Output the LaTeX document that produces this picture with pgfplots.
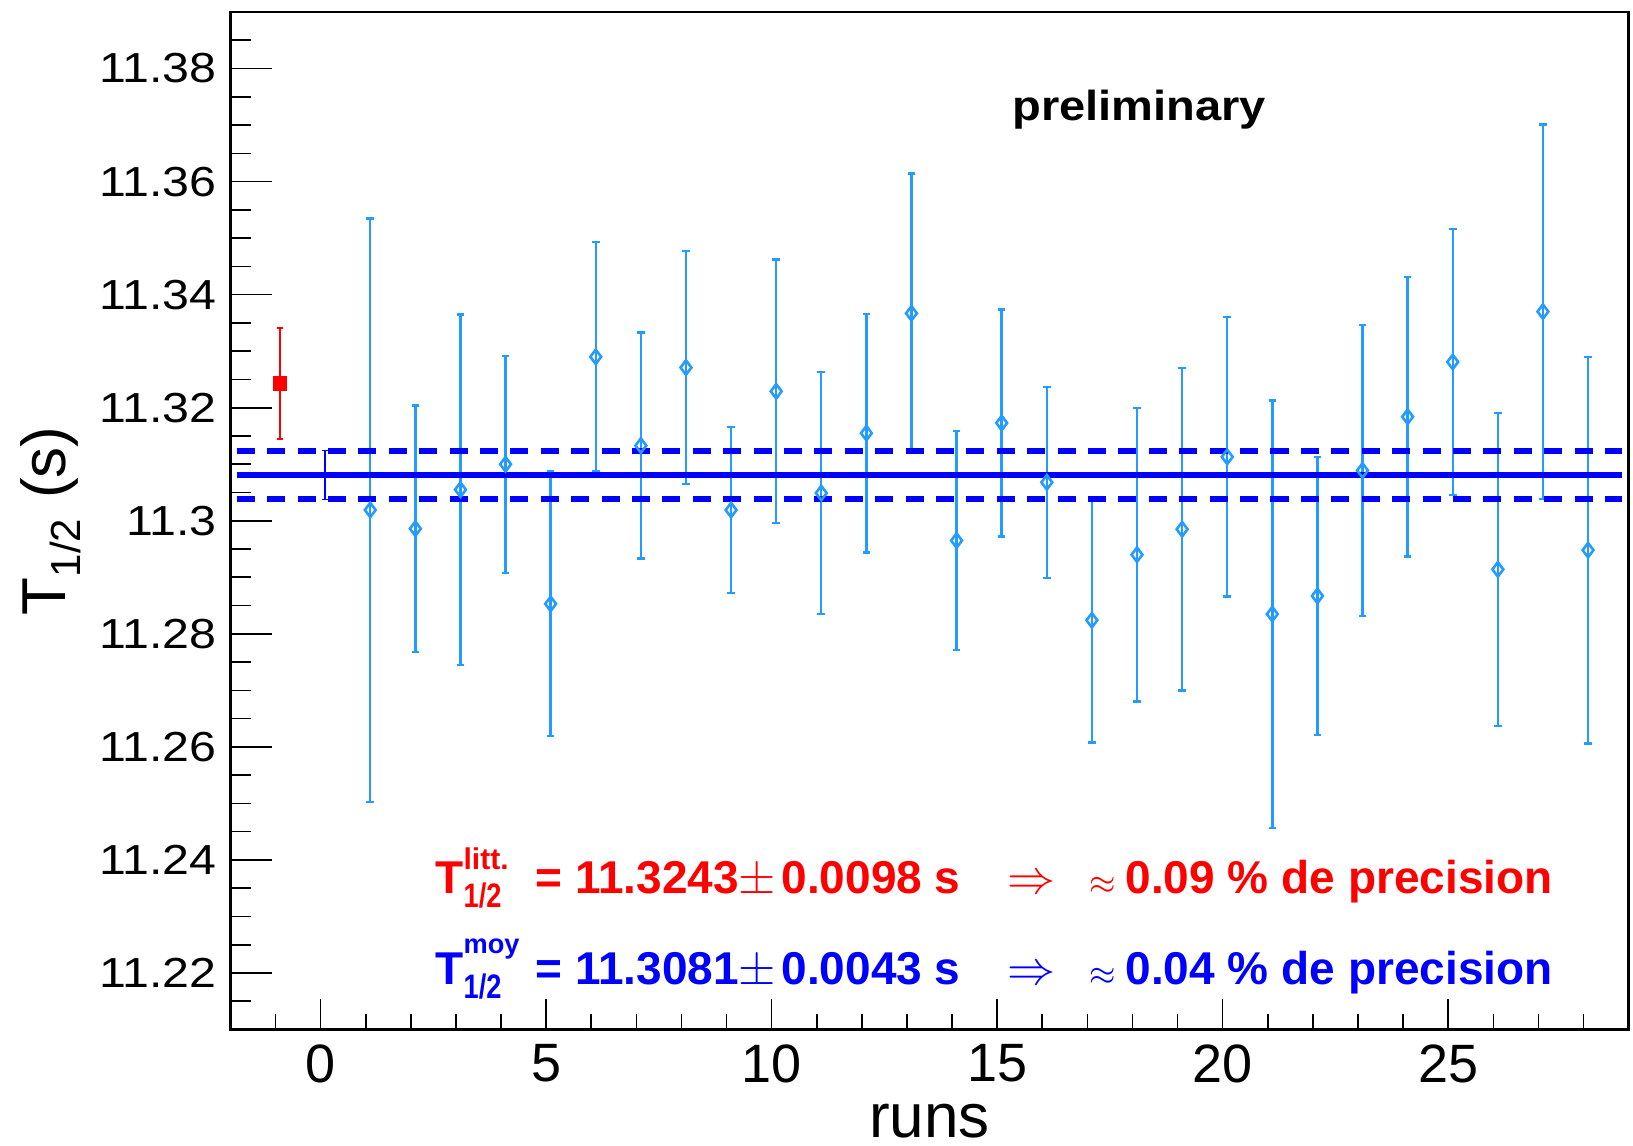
\documentclass[border=0pt]{standalone}
\usepackage{pgfplots}
\pgfplotsset{compat=1.18}
\usepackage{pgfplotstable}
\usepackage{graphicx}
\usepackage{fontspec}
\setmainfont{Liberation Sans}

\definecolor{runblue}{RGB}{35,155,255}
\definecolor{meanblue}{RGB}{0,0,255}
\definecolor{littred}{RGB}{255,0,0}

% half-life per run: x = run (+0.1 offset), value, uncertainty
\pgfplotstableread{
x     y        err
1.1   11.3019  0.0516
2.1   11.2986  0.0218
3.1   11.3055  0.0310
4.1   11.3100  0.0192
5.1   11.2853  0.0234
6.1   11.3290  0.0203
7.1   11.3133  0.0200
8.1   11.3271  0.0206
9.1   11.3019  0.0147
10.1  11.3229  0.0233
11.1  11.3049  0.0214
12.1  11.3155  0.0211
13.1  11.3367  0.0247
14.1  11.2965  0.0194
15.1  11.3173  0.0201
16.1  11.3068  0.0169
17.1  11.2824  0.0216
18.1  11.2940  0.0260
19.1  11.2985  0.0285
20.1  11.3113  0.0247
21.1  11.2835  0.0378
22.1  11.2867  0.0246
23.1  11.3089  0.0257
24.1  11.3184  0.0247
25.1  11.3281  0.0235
26.1  11.2914  0.0277
27.1  11.3370  0.0331
28.1  11.2948  0.0342
}\runtable

\newcommand{\yl}[1]{\scalebox{1.15}[1]{#1}}
\newcommand{\half}{\raisebox{-3.5pt}{\scalebox{0.8}[1]{\fontsize{8.5}{9}\selectfont 1/2}}}

\tikzset{leg/.style={anchor=base west, inner sep=0pt, font=\fontsize{11.5}{13}\selectfont\bfseries}}

\begin{document}
\begin{tikzpicture}
\pgfplotsset{
  rootframe/.style={
    scale only axis, width=349.5pt, height=254.35pt,
    xmin=-2, xmax=29, ymin=11.21, ymax=11.39,
    axis line style={line width=0.6pt, black},
    tick style={line width=0.4pt, black},
    tick align=inside,
  }
}
% main axis: data, y ticks
\begin{axis}[rootframe, name=main,
  xtick=\empty,
  ytick={11.22,11.24,11.26,11.28,11.30,11.32,11.34,11.36,11.38},
  yticklabels={\yl{11.22},\yl{11.24},\yl{11.26},\yl{11.28},\yl{11.3},\yl{11.32},\yl{11.34},\yl{11.36},\yl{11.38}},
  minor ytick={11.215,11.225,11.23,11.235,11.245,11.25,11.255,11.265,11.27,11.275,11.285,11.29,11.295,11.305,11.31,11.315,11.325,11.33,11.335,11.345,11.35,11.355,11.365,11.37,11.375,11.385},
  major tick length=10.5pt, minor tick length=5.25pt,
  ytick pos=left,
  yticklabel style={font=\fontsize{10.5}{12}\selectfont, anchor=east, inner sep=0pt, xshift=-3.25pt},
  every axis y label/.style={at={(axis description cs:-0.118,0.5)}, rotate=90, anchor=base, inner sep=0pt},
  ylabel={\fontsize{15.5}{18}\selectfont T\raisebox{-3.75pt}{\fontsize{10.5}{12}\selectfont 1/2}\hspace{5pt}(s)},
]
% literature value
\addplot[only marks, mark=square*, mark size=1.6pt, littred,
  error bars/.cd, y dir=both, y explicit,
  error bar style={line width=0.45pt, littred},
  error mark options={rotate=90, mark size=0.85pt, line width=0.45pt, littred}]
  coordinates {(-0.9,11.3243) +- (0,0.0098)};
% weighted mean
\addplot[only marks, mark=*, mark size=0.5pt, meanblue,
  error bars/.cd, y dir=both, y explicit,
  error bar style={line width=0.35pt, meanblue},
  error mark options={rotate=90, mark size=0.85pt, line width=0.35pt, meanblue}]
  coordinates {(0.1,11.3081) +- (0,0.0043)};
% individual runs
\addplot[only marks, mark=diamond, mark size=1.8pt, runblue,
  mark options={fill=white, line width=0.65pt},
  error bars/.cd, y dir=both, y explicit,
  error bar style={line width=0.6pt, runblue},
  error mark options={rotate=90, mark size=0.95pt, line width=0.6pt, runblue}]
  table[x=x, y=y, y error=err] {\runtable};
% mean and its band
\addplot[meanblue, line width=1.45pt, mark=none] coordinates {(-1.86,11.3081) (28.86,11.3081)};
\addplot[meanblue, line width=1.55pt, mark=none, dash pattern=on 4.5pt off 3.1pt] coordinates {(-1.86,11.3124) (28.86,11.3124)};
\addplot[meanblue, line width=1.55pt, mark=none, dash pattern=on 4.5pt off 3.1pt] coordinates {(-1.86,11.3038) (28.86,11.3038)};

\node[anchor=base west, inner sep=0pt, font=\fontsize{10.5}{12}\selectfont\bfseries] at (axis cs:15.32,11.3708) {\scalebox{1.12}[1]{preliminary}};

% literature line
\node[leg, littred] at (axis cs:2.53,11.2341) {T\rlap{\raisebox{6pt}{\fontsize{7.5}{8}\selectfont litt.}}\half};
\node[leg, littred] at (axis cs:4.75,11.2341) {= 11.3243};
\node[leg, littred, font=\fontsize{12.5}{14}\selectfont] at (axis cs:9.24,11.2341) {$\pm$};
\node[leg, littred] at (axis cs:10.20,11.2341) {0.0098 s};
\node[leg, littred, font=\fontsize{11.5}{13}\selectfont] at (axis cs:15.20,11.2341) {$\Rightarrow$};
\node[leg, littred, font=\fontsize{8}{9}\selectfont] at (axis cs:17.03,11.2341) {$\approx$};
\node[leg, littred] at (axis cs:17.83,11.2341) {0.09 \% de precision};

% mean line
\node[leg, meanblue] at (axis cs:2.53,11.2179) {T\rlap{\raisebox{7.8pt}{\fontsize{6.8}{8}\selectfont moy}}\half};
\node[leg, meanblue] at (axis cs:4.75,11.2179) {= 11.3081};
\node[leg, meanblue, font=\fontsize{12.5}{14}\selectfont] at (axis cs:9.24,11.2179) {$\pm$};
\node[leg, meanblue] at (axis cs:10.20,11.2179) {0.0043 s};
\node[leg, meanblue, font=\fontsize{11.5}{13}\selectfont] at (axis cs:15.20,11.2179) {$\Rightarrow$};
\node[leg, meanblue, font=\fontsize{8}{9}\selectfont] at (axis cs:17.03,11.2179) {$\approx$};
\node[leg, meanblue] at (axis cs:17.83,11.2179) {0.04 \% de precision};
\end{axis}

% overlay axis: x ticks and label
\begin{axis}[rootframe,
  ytick=\empty,
  xtick={0,5,10,15,20,25},
  xticklabels={0,5,10,15,20,25},
  minor xtick={-1,1,2,3,4,6,7,8,9,11,12,13,14,16,17,18,19,21,22,23,24,26,27,28},
  major tick length=7.65pt, minor tick length=3.8pt,
  xtick pos=left,
  xticklabel style={font=\fontsize{13.5}{15}\selectfont, anchor=north, inner sep=0pt, yshift=-3.5pt},
  every axis x label/.style={at={(axis description cs:0.5,-0.1060)}, anchor=base, inner sep=0pt},
  xlabel={\fontsize{15.5}{18}\selectfont runs},
]
\end{axis}

\pgfresetboundingbox
\path ([shift={(-57.6pt,-29.1pt)}]main.south west) rectangle ([shift={(1.1pt,3.0pt)}]main.north east);
\end{tikzpicture}
\end{document}
